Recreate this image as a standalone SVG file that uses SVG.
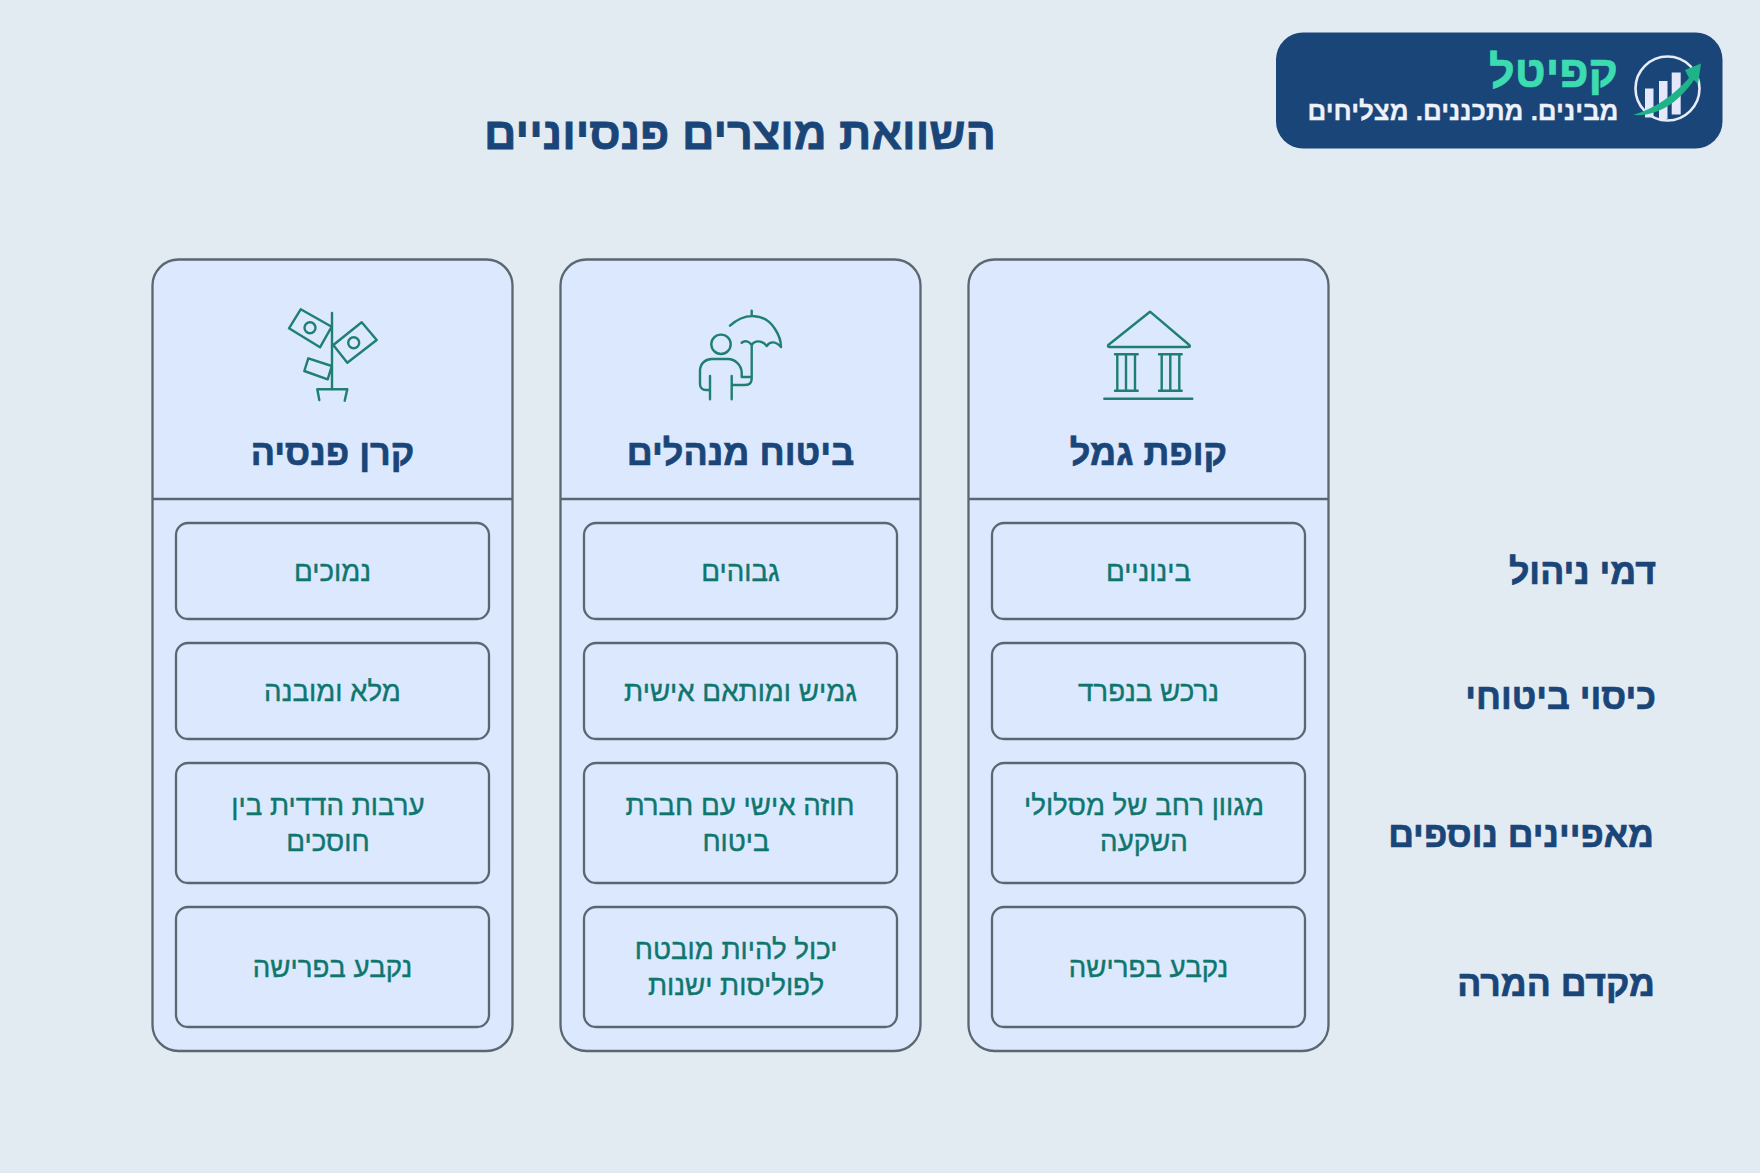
<svg xmlns="http://www.w3.org/2000/svg" width="1760" height="1173" viewBox="0 0 1760 1173">
<style>
text{font-family:"Liberation Sans","DejaVu Sans",sans-serif;direction:rtl;unicode-bidi:embed}
.card{fill:#dbe8fe;stroke:#5b6670;stroke-width:2.300}
.div{stroke:#5b6670;stroke-width:2.300}
.cell{fill:#dbe8fe;stroke:#5b6670;stroke-width:2.300}
.t{font-size:27.700px;fill:#0f766e;text-anchor:middle;stroke:#0f766e;stroke-width:.4}
.h{font-size:36px;font-weight:700;fill:#1a4578;text-anchor:middle;stroke:#1a4578;stroke-width:.7}
.r{font-size:35.700px;font-weight:700;fill:#1a4578;text-anchor:start;stroke:#1a4578;stroke-width:.7}
.ic{fill:none;stroke:#1f7f70;stroke-width:2.400;stroke-linecap:round;stroke-linejoin:round}
</style>
<rect width="1760" height="1173" fill="#e2ebf2"/>
<g id="logo">
<rect x="1276" y="32.500" width="446.500" height="116" rx="27" fill="#1a4578"/>
<circle cx="1667.500" cy="88.500" r="32" fill="none" stroke="#e8ecf8" stroke-width="2.600"/>
<path d="M1645 88.500h8.500v29h-8.500zM1659 81h8.500v38h-8.500zM1671.700 72.500h9v42h-9z" fill="#e4e8fa"/>
<path d="M1633 115C1655 108 1672 97 1689 78L1685 70L1701 63.500L1698 84L1694 80C1680 100 1660 117 1633 115Z" fill="#1fb38a"/>
<text x="1618" y="87" font-size="45" font-weight="700" fill="#3ddbb0" stroke="#3ddbb0" stroke-width=".7" style="text-anchor:start">קפיטל</text>
<text x="1618.500" y="120" font-size="26" font-weight="700" fill="#eef0fa" stroke="#eef0fa" stroke-width=".3" style="text-anchor:start">מבינים. מתכננים. מצליחים</text>
</g>
<g id="title"><text x="740" y="149" font-size="45" font-weight="700" fill="#1a4578" stroke="#1a4578" stroke-width=".8" style="text-anchor:middle">השוואת מוצרים פנסיוניים</text></g>
<g id="row-labels">
<text class="r" x="1656" y="584">דמי ניהול</text>
<text class="r" x="1656" y="709">כיסוי ביטוחי</text>
<text class="r" x="1654" y="847">מאפיינים נוספים</text>
<text class="r" x="1655" y="996">מקדם המרה</text>
</g>
<g id="col-pension">
<rect class="card" x="152.500" y="259.500" width="360" height="791.500" rx="26"/>
<path class="div" d="M152.500 499H512.500"/>
<g class="ic"><path d="M332 313V389M300.700 309.300L331.700 326.700L320 347.300L289 328.300ZM361.700 322.300L376.700 340L347.300 362.700L333.300 345ZM308.300 358.300L331.700 366L327.700 379.300L304.300 371Z"/><circle cx="310" cy="327.700" r="5.500"/><circle cx="353.700" cy="342.700" r="5.500"/><path d="M319.300 400L317.300 389.300H347.300L344.700 400.700"/></g>
<text class="h" x="332.500" y="465">קרן פנסיה</text>
<rect class="cell" x="176" y="523" width="313" height="96" rx="12"/><text class="t" x="332.500" y="580.500">נמוכים</text>
<rect class="cell" x="176" y="643" width="313" height="96" rx="12"/><text class="t" x="332.500" y="700.500">מלא ומובנה</text>
<rect class="cell" x="176" y="763" width="313" height="120" rx="12"/><text class="t" x="328" y="814.500">ערבות הדדית בין</text><text class="t" x="328" y="850.500">חוסכים</text>
<rect class="cell" x="176" y="907" width="313" height="120" rx="12"/><text class="t" x="332.500" y="976.500">נקבע בפרישה</text>
</g>
<g id="col-managers">
<rect class="card" x="560.500" y="259.500" width="360" height="791.500" rx="26"/>
<path class="div" d="M560.500 499H920.500"/>
<g class="ic"><path d="M730 325.700C745 312 765 313 775 329C779 335 781 341 781 347M751.700 310.700V316M741.700 342.700C745 340 749 341 751.700 345C755 340 762 340 766.700 346C770 341 776 341 781 347M751.700 345V378C751.700 384 749 385 744 385H733M710 376V399.300M731.700 376V399.300M710 390H706C702 390 700 387 700 384V371C700 363 706 359 712 359H728C735 359 741 365 741.700 372V377H751.700"/><circle cx="721" cy="344.300" r="9.700"/></g>
<text class="h" x="740.500" y="465">ביטוח מנהלים</text>
<rect class="cell" x="584" y="523" width="313" height="96" rx="12"/><text class="t" x="740.500" y="580.500">גבוהים</text>
<rect class="cell" x="584" y="643" width="313" height="96" rx="12"/><text class="t" x="740.500" y="700.500">גמיש ומותאם אישית</text>
<rect class="cell" x="584" y="763" width="313" height="120" rx="12"/><text class="t" x="740" y="814.500">חוזה אישי עם חברת</text><text class="t" x="736" y="850.500">ביטוח</text>
<rect class="cell" x="584" y="907" width="313" height="120" rx="12"/><text class="t" x="736" y="958.500">יכול להיות מובטח</text><text class="t" x="736" y="994.500">לפוליסות ישנות</text>
</g>
<g id="col-gemel">
<rect class="card" x="968.500" y="259.500" width="360" height="791.500" rx="26"/>
<path class="div" d="M968.500 499H1328.500"/>
<g class="ic"><path d="M1150 311.700L1108.300 345Q1107 347 1110 347H1188Q1191 347 1189.300 345ZM1115 354.300H1137.700M1117.300 354.300V390.700M1126 354.300V390.700M1135 354.300V390.700M1115 390.700H1137.700M1159 354.300H1181.700M1161.700 354.300V390.700M1170.300 354.300V390.700M1179.300 354.300V390.700M1159 390.700H1181.700M1104.300 398.700H1192.300"/></g>
<text class="h" x="1148.500" y="465">קופת גמל</text>
<rect class="cell" x="992" y="523" width="313" height="96" rx="12"/><text class="t" x="1148.500" y="580.500">בינוניים</text>
<rect class="cell" x="992" y="643" width="313" height="96" rx="12"/><text class="t" x="1148.500" y="700.500">נרכש בנפרד</text>
<rect class="cell" x="992" y="763" width="313" height="120" rx="12"/><text class="t" x="1144" y="814.500">מגוון רחב של מסלולי</text><text class="t" x="1144" y="850.500">השקעה</text>
<rect class="cell" x="992" y="907" width="313" height="120" rx="12"/><text class="t" x="1148.500" y="976.500">נקבע בפרישה</text>
</g>
</svg>
